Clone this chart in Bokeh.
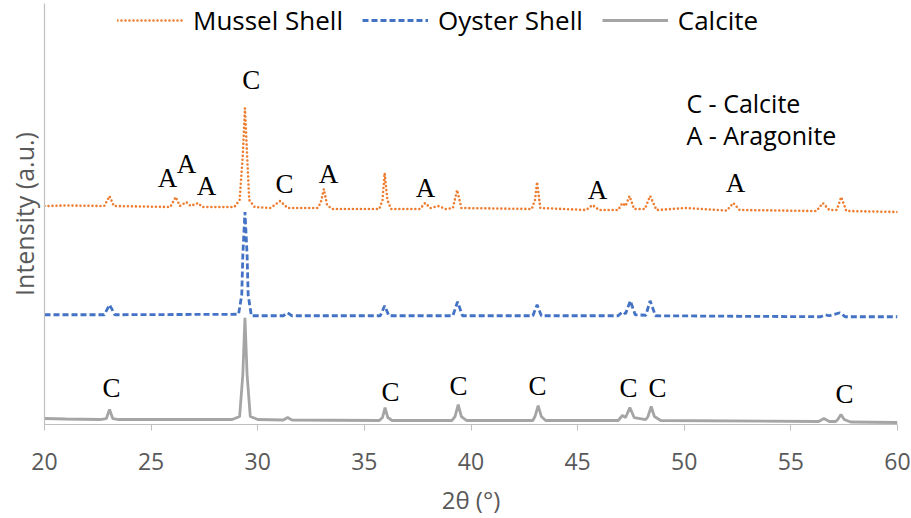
from bokeh.plotting import figure
from bokeh.models import Range1d, FixedTicker, ColumnDataSource, Legend, LegendItem
from bokeh.core.properties import value
from bokeh.embed import file_html
from bokeh.resources import INLINE

# ---- data, intensity in arbitrary units ----
mussel_x = [20, 21, 22.8, 23.05, 23.25, 25.9, 26.15, 26.35, 26.65, 26.85, 27.2, 27.4,
            28.9, 29.15, 29.3, 29.4, 29.5, 29.6, 29.85, 30.6, 31.05, 31.4, 32.8, 32.95,
            33.1, 33.25, 33.5, 35.7, 35.85, 35.95, 36.08, 36.25, 37.6, 37.85, 38.1, 38.5,
            38.8, 39.15, 39.35, 39.55, 42.85, 43.0, 43.1, 43.25, 45.4, 45.7, 46.0, 46.9,
            47.1, 47.25, 47.43, 47.65, 48.15, 48.4, 48.7, 50.1, 52.0, 52.3, 52.6, 56.2,
            56.5, 56.8, 57.15, 57.36, 57.6, 60]
mussel_y = [219, 219.5, 219, 229, 219, 218, 228, 219, 223, 219, 222, 218,
            218, 225, 270, 317, 270, 225, 218, 217, 224, 217, 217, 222,
            236, 220, 216, 216, 225, 252, 225, 216, 216, 222, 217, 219,
            216, 217, 235, 217, 216, 225, 243, 217, 215, 220, 215, 215,
            222, 219, 229, 216, 216, 229, 215, 217, 214.5, 222, 215, 214,
            222, 215, 215, 228, 214, 213]

oyster_x = [20, 22.8, 23.05, 23.3, 29.1, 29.25, 29.3, 29.4, 29.5, 29.55, 29.7, 31.2,
            31.4, 31.6, 35.75, 35.95, 36.15, 39.15, 39.37, 39.6, 42.9, 43.1, 43.3, 46.9,
            47.1, 47.25, 47.47, 47.7, 48.2, 48.4, 48.65, 56.4, 56.6, 56.8, 57.3, 57.55, 60]
oyster_y = [110, 110, 120, 110, 110.5, 130, 170, 213, 170, 130, 109, 109,
            112, 109, 109, 119, 109, 109, 123, 109, 109, 120, 109, 109,
            113, 111, 124, 110, 109.5, 124, 109, 108, 110, 109, 112, 108, 108]

calcite_x = [20, 21, 22.6, 22.9, 23.05, 23.2, 23.5, 26, 28.8, 29.15, 29.3, 29.4, 29.5,
             29.65, 30.0, 31.2, 31.4, 31.6, 35.7, 35.85, 35.97, 36.1, 36.3, 39.1, 39.25,
             39.4, 39.55, 39.8, 42.9, 43.0, 43.15, 43.3, 43.5, 46.9, 47.1, 47.25, 47.45,
             47.65, 48.2, 48.3, 48.45, 48.6, 48.9, 56.3, 56.55, 56.8, 57.1, 57.2, 57.35,
             57.5, 57.8, 60]
calcite_y = [6, 5.5, 5, 6, 15, 6, 5, 5, 5, 8, 50, 107, 50,
             8, 5, 4.5, 7, 4.5, 4, 7, 17, 7, 4, 4, 8,
             20, 8, 4, 4, 8, 19, 8, 4, 4, 9, 7, 17,
             7, 5, 8, 18, 8, 4, 3, 6, 3, 3, 5, 10,
             5, 2.5, 2]

x_ticks = [20, 25, 30, 35, 40, 45, 50, 55, 60]

# peak labels
mussel_lbl_x = [29.7, 25.77, 26.66, 27.6, 31.25, 33.32, 37.87, 45.93, 52.4]
mussel_lbl_y = [345, 247, 261, 239, 241, 251, 237, 235, 242]
mussel_lbl = ["C", "A", "A", "A", "C", "A", "A", "A", "A"]

calcite_lbl_x = [23.14, 36.22, 39.41, 43.12, 47.39, 48.75, 57.51]
calcite_lbl_y = [37, 33, 39, 39, 37, 37, 31]
calcite_lbl = ["C", "C", "C", "C", "C", "C", "C"]

key_x = [50.1, 50.1]
key_y = [322, 290]
key_txt = ["C - Calcite", "A - Aragonite"]

# ---- figure ----
p = figure(width=911, height=518, output_backend="svg", toolbar_location=None,
           x_range=Range1d(20, 60), y_range=Range1d(0, 422),
           min_border_left=44, min_border_right=14, min_border_top=3, min_border_bottom=93)
p.outline_line_color = None
p.xgrid.visible = False
p.ygrid.visible = False
p.background_fill_color = "white"
p.border_fill_color = "white"

r_m = p.line(mussel_x, mussel_y, line_color="#ED7D31", line_width=2.6,
             line_dash="0 4", line_cap="round")
r_o = p.line(oyster_x, oyster_y, line_color="#4472C4", line_width=2.8,
             line_dash="6 3")
r_c = p.line(calcite_x, calcite_y, line_color="#A5A5A5", line_width=2.8)

lab_font = value("Liberation Serif")
p.text(x=mussel_lbl_x, y=mussel_lbl_y, text=mussel_lbl, text_font=lab_font,
       text_font_size="27px", text_align="center", text_baseline="middle", text_color="black")
p.text(x=calcite_lbl_x, y=calcite_lbl_y, text=calcite_lbl, text_font=lab_font,
       text_font_size="27px", text_align="center", text_baseline="middle", text_color="black")
p.text(x=key_x, y=key_y, text=key_txt, text_font=value("Open Sans"),
       text_font_size="25px", text_align="left", text_baseline="middle", text_color="black")

# axes
xa = p.xaxis[0]
xa.ticker = FixedTicker(ticks=x_ticks)
xa.minor_tick_line_color = None
xa.major_tick_in = 0
xa.major_tick_out = 6
xa.major_tick_line_color = "#BFBFBF"
xa.axis_line_color = "#BFBFBF"
xa.axis_line_width = 1.2
xa.major_label_text_font = "Open Sans"
xa.major_label_text_font_size = "23px"
xa.major_label_text_color = "#595959"
xa.major_label_standoff = 22
xa.axis_label = "2θ (°)"
xa.axis_label_text_font = "Open Sans"
xa.axis_label_text_font_size = "24px"
xa.axis_label_text_font_style = "normal"
xa.axis_label_text_color = "#595959"
xa.axis_label_standoff = 10

ya = p.yaxis[0]
ya.ticker = FixedTicker(ticks=[])
ya.minor_tick_line_color = None
ya.major_tick_line_color = None
ya.axis_line_color = "#BFBFBF"
ya.axis_line_width = 1.2
ya.axis_label = "Intensity (a.u.)"
ya.axis_label_text_font = "Open Sans"
ya.axis_label_text_font_size = "25px"
ya.axis_label_text_font_style = "normal"
ya.axis_label_text_color = "#595959"
ya.axis_label_standoff = 4

legend = Legend(items=[LegendItem(label="Mussel Shell", renderers=[r_m]),
                       LegendItem(label="Oyster Shell", renderers=[r_o]),
                       LegendItem(label="Calcite", renderers=[r_c])],
                orientation="horizontal", location=(73, 386),
                glyph_width=66, label_standoff=10, spacing=19, padding=0, margin=0,
                label_text_font="Open Sans", label_text_font_size="26px",
                label_text_color="black", background_fill_alpha=0, border_line_alpha=0)
p.add_layout(legend)

open("out.html", "w").write(file_html(p, INLINE))
